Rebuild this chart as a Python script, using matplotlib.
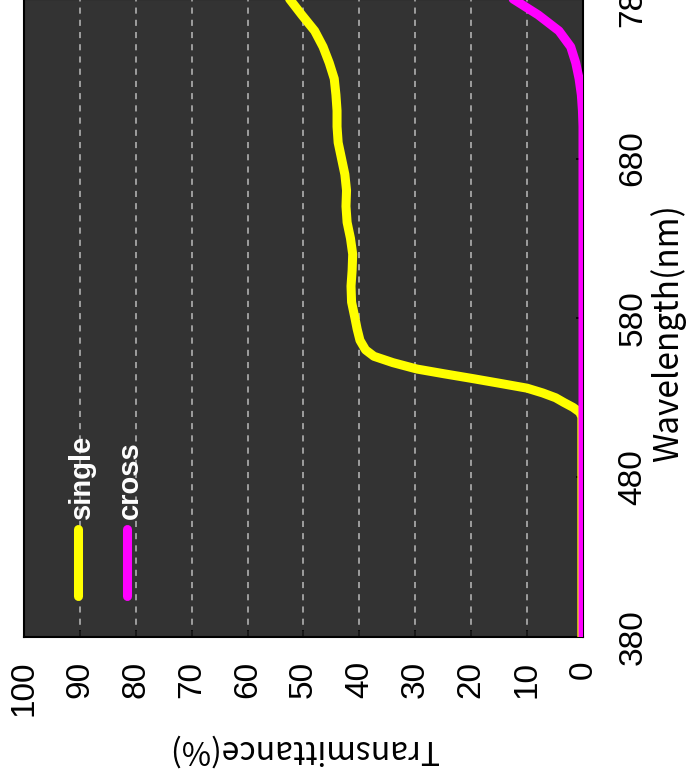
import numpy as np
import matplotlib.pyplot as plt

# wavelength (nm) and transmittance (%)
wl_single = [380, 450, 518, 521, 524, 527, 530, 533, 536, 539, 542, 545, 548, 552,
             556, 560, 566, 573, 580, 590, 600, 610, 620, 630, 640, 650, 660, 670,
             680, 690, 700, 710, 720, 730, 740, 750, 760, 770, 780]
tr_single = [0.2, 0.2, 0.2, 0.6, 1.8, 3.4, 4.9, 7.2, 10, 14.8, 19.7, 24.8, 29.7, 34,
             37.4, 38.9, 39.9, 40.4, 40.8, 41.4, 41.5, 41.3, 41.2, 41.6, 42.2, 42.4, 42.3, 42.6,
             43.2, 43.8, 44, 44, 44.2, 44.5, 45.4, 46.5, 48, 50.3, 52.5]

wl_cross = [380, 500, 600, 700, 710, 720, 730, 740, 750, 760, 770, 780]
tr_cross = [0, 0, 0, 0, 0.1, 0.3, 0.7, 1.3, 2.2, 4.3, 8, 12.5]

tr_ticks = list(range(0, 101, 10))
wl_ticks = [380, 480, 580, 680, 780]

font = 'Liberation Sans'
jp_font = ['Noto Sans CJK JP', 'DejaVu Sans']

fig = plt.figure(figsize=(6.96, 7.79), dpi=100)
ax = fig.add_axes([24 / 696, 142 / 779, 559 / 696, 638 / 779])
ax.set_facecolor('#333333')

# chart is shown turned a quarter turn: transmittance runs right->left, wavelength upward
ax.plot(tr_single, wl_single, color='#ffff00', lw=6.5, solid_capstyle='round',
        solid_joinstyle='round', zorder=3)
ax.plot(tr_cross, wl_cross, color='#ff00ff', lw=6.5, solid_capstyle='round',
        solid_joinstyle='round', zorder=4)

ax.set_xlim(100, 0)
ax.set_ylim(380, 780)

ax.set_xticks(tr_ticks)
ax.set_xticklabels([str(t) for t in tr_ticks], rotation=90, fontsize=24, family=font)
ax.yaxis.tick_right()
ax.set_yticks(wl_ticks)
ax.set_yticklabels([str(w) for w in wl_ticks], rotation=90, va='center', fontsize=24, family=font)
ax.tick_params(axis='both', direction='in', length=5, width=1.2, color='black')
ax.tick_params(axis='x', pad=17)
ax.tick_params(axis='y', pad=25)

ax.grid(axis='x', color='#bcbcbc', linestyle=(0, (4, 4)), linewidth=1.1)
for s in ax.spines.values():
    s.set_linewidth(1.5)
    s.set_color('black')

ax.set_xlabel('Transmittance(%)', rotation=180, fontsize=23, family=jp_font,
              va='center', ha='center')
ax.xaxis.set_label_coords(0.5, -0.177)
ax.yaxis.set_label_position('right')
ax.set_ylabel('Wavelength(nm)', rotation=90, fontsize=24, family=jp_font,
              va='center', ha='center')
ax.yaxis.set_label_coords(1.152, 0.476)

# legend drawn in the same turned layout
leg = [('single', '#ffff00', 0.097), ('cross', '#ff00ff', 0.184)]
for name, c, xa in leg:
    ax.plot([xa, xa], [0.065, 0.17], transform=ax.transAxes, color=c, lw=6.5,
            solid_capstyle='round', zorder=5)
    ax.text(xa + 0.006, 0.185, name, transform=ax.transAxes, rotation=90,
            ha='center', va='bottom', color='white', fontsize=21,
            fontweight='bold', family=font, zorder=6)

fig.savefig('out.png', dpi=100, facecolor='white')
